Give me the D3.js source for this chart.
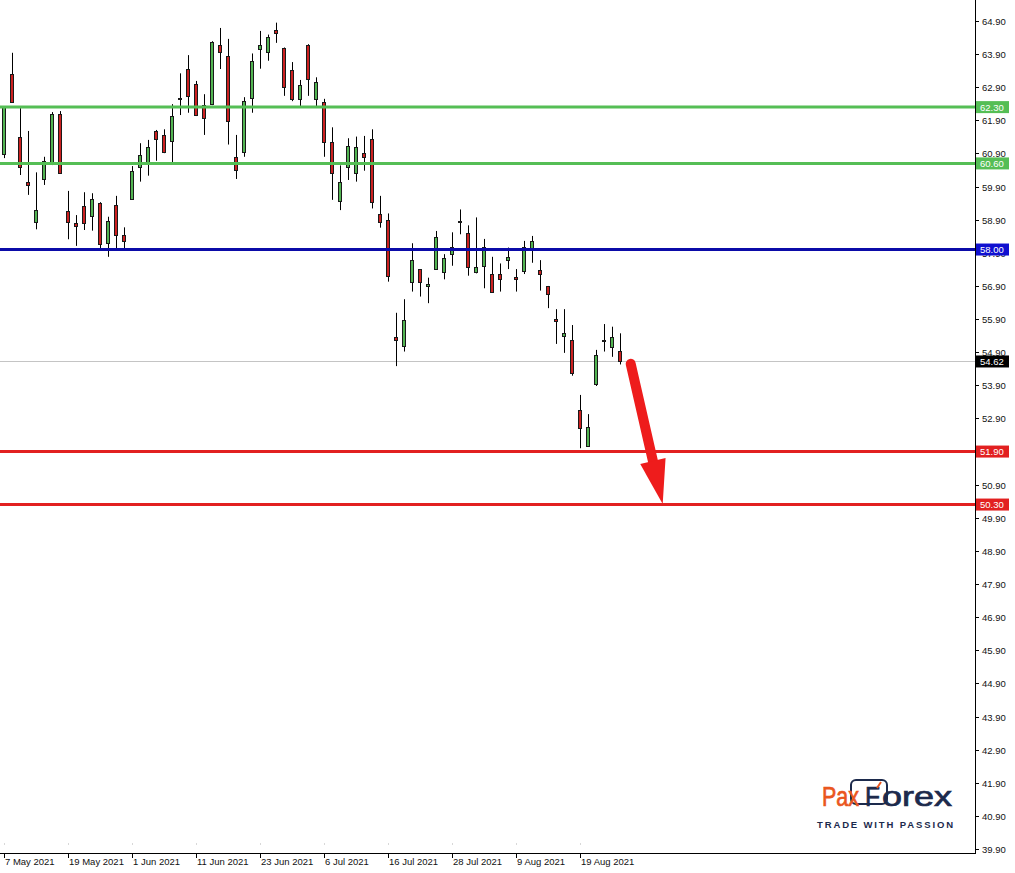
<!DOCTYPE html>
<html>
<head>
<meta charset="utf-8">
<script src="https://cdn.jsdelivr.net/npm/d3@7"></script>
<style>
  html, body { margin: 0; padding: 0; background: #ffffff; }
  svg { display: block; }
</style>
</head>
<body>
<script>
// ---------------- DATA ----------------
const opens  = [60.88,63.30,61.41,60.04,58.84,60.12,60.60,62.08,59.15,58.79,59.31,59.02,59.40,58.21,59.34,58.43,
                59.52,60.48,60.60,61.57,61.45,61.27,62.55,63.44,62.99,62.35,62.38,64.18,63.84,60.78,60.95,62.58,
                64.05,63.95,64.63,64.08,63.41,62.54,64.17,62.54,62.45,61.24,59.46,60.50,60.30,60.91,61.34,59.06,
                58.89,55.35,55.09,57.01,57.40,56.90,57.40,57.31,57.86,58.84,58.49,57.33,57.50,57.25,57.25,57.68,
                57.17,57.36,58.04,57.37,56.90,55.90,55.39,55.26,53.15,52.08,53.93,55.28,55.05,54.94];
const highs  = [62.33,63.94,62.27,61.58,60.33,60.80,62.15,62.18,59.77,59.04,59.73,59.70,59.43,58.99,59.62,58.67,
                60.52,61.21,61.31,61.61,61.63,62.39,63.32,63.87,63.09,62.69,64.29,64.69,64.36,61.46,62.60,63.92,
                64.60,64.49,64.85,64.10,63.66,63.12,64.20,63.20,62.55,61.69,60.54,61.36,61.41,61.43,61.63,59.62,
                59.09,56.09,56.50,58.19,57.41,57.15,58.56,57.86,58.52,59.21,58.73,58.97,58.32,57.78,57.58,58.06,
                57.41,58.26,58.41,57.68,56.90,56.20,56.20,55.72,53.61,53.03,54.97,55.75,55.67,55.47];
const lows   = [60.76,62.43,60.25,59.65,58.61,59.95,60.55,60.28,58.31,58.11,58.59,58.57,58.04,57.78,57.96,57.99,
                59.50,60.05,60.23,60.68,60.91,60.62,62.06,62.13,62.03,61.46,62.36,63.45,61.17,60.13,60.80,62.13,
                63.46,63.70,64.24,62.64,62.48,62.33,62.64,62.33,60.80,59.50,59.19,60.10,60.05,60.38,59.24,58.66,
                57.03,54.48,54.92,56.73,56.58,56.38,57.40,57.10,57.51,58.46,57.21,57.28,56.83,56.70,56.73,57.41,
                56.73,57.26,57.60,56.76,56.23,55.15,54.88,54.19,52.00,52.05,53.88,54.92,54.76,54.53];
const closes = [62.31,62.46,60.50,59.94,59.19,60.66,62.08,60.32,58.84,58.71,58.81,59.52,58.16,58.86,58.43,58.25,
                60.36,60.85,61.09,61.35,60.95,62.02,62.58,62.64,62.07,61.96,64.27,63.97,61.87,60.39,62.48,63.68,
                64.17,64.41,64.53,62.92,62.54,62.96,63.16,63.05,61.26,60.32,60.03,61.14,61.10,60.78,59.43,58.84,
                57.21,55.26,55.87,57.68,57.01,56.96,58.37,57.73,58.09,58.87,57.46,57.46,58.09,56.73,57.10,57.78,
                57.10,58.09,58.25,57.26,56.67,55.84,55.47,54.28,52.62,52.63,54.82,55.25,55.37,54.62];

const dateLabels = ["7 May 2021","19 May 2021","1 Jun 2021","11 Jun 2021","23 Jun 2021",
                    "6 Jul 2021","16 Jul 2021","28 Jul 2021","9 Aug 2021","19 Aug 2021"];
const dateBarIndex = [0,8,16,24,32,40,48,56,64,72];

const priceTicks = d3.range(0, 26).map(k => +(39.90 + k).toFixed(2));
const resistanceLevels = [62.30, 60.60];
const pivotLevels = [58.00];
const targetLevels = [51.90, 50.30];
const lastPrice = 54.62;

// forecast arrow (bar index, price)
const arrowFrom = [78.3, 54.55];
const arrowTo   = [82.3, 50.32];

// ---------------- STYLE ----------------
const W = 1015, H = 873;
const plotRight = 975, plotBottom = 853;
const C = {
  up: "#52b452", down: "#cc2020", border: "#1a1a1a",
  green: "#55be55", blue: "#0b0ba8", red: "#e22020",
  grey: "#c4c4c4", arrow: "#ee1c1c",
  orange: "#ea561e", navy: "#1c2a4c"
};
const FONT = "'Liberation Sans', Arial, sans-serif";

const svg = d3.select("body").append("svg").attr("width", W).attr("height", H)
  .style("font-family", FONT);

// scales
const x = d3.scaleLinear().domain([0, 121]).range([4.3, 4.3 + 8 * 121]);
const y = d3.scaleLinear().domain([39.90, 64.90]).range([849, 21]);
const px = v => Math.round(x(v));

const candles = opens.map((o, i) => ({ i, o, h: highs[i], l: lows[i], c: closes[i] }));

// current price line
svg.append("line")
  .attr("x1", 0).attr("x2", plotRight)
  .attr("y1", Math.round(y(lastPrice)) + 0.5).attr("y2", Math.round(y(lastPrice)) + 0.5)
  .attr("stroke", C.grey).attr("stroke-width", 1);

// candles
const g = svg.append("g");
g.selectAll("line.wick").data(candles).join("line")
  .attr("class", "wick")
  .attr("x1", d => px(d.i) + 0.5).attr("x2", d => px(d.i) + 0.5)
  .attr("y1", d => y(d.h)).attr("y2", d => y(d.l))
  .attr("stroke", "#000").attr("stroke-width", 1);

g.selectAll("rect.body").data(candles).join("rect")
  .attr("class", "body")
  .attr("x", d => px(d.i) - 1.5)
  .attr("width", 3)
  .attr("y", d => Math.round(y(Math.max(d.o, d.c))) + 0.5)
  .attr("height", d => Math.max(1, Math.round(y(Math.min(d.o, d.c))) - Math.round(y(Math.max(d.o, d.c)))))
  .attr("fill", d => d.c >= d.o ? C.up : C.down)
  .attr("stroke", C.border).attr("stroke-width", 1);

// horizontal levels
function level(v, color) {
  svg.append("line")
    .attr("x1", 0).attr("x2", plotRight)
    .attr("y1", y(v)).attr("y2", y(v))
    .attr("stroke", color).attr("stroke-width", 3);
}
resistanceLevels.forEach(v => level(v, C.green));
pivotLevels.forEach(v => level(v, C.blue));
targetLevels.forEach(v => level(v, C.red));

// arrow
(function () {
  const x0 = x(arrowFrom[0]), y0 = y(arrowFrom[1]);
  const x1 = x(arrowTo[0]), y1 = y(arrowTo[1]);
  const dx = x1 - x0, dy = y1 - y0, len = Math.hypot(dx, dy);
  const ux = dx / len, uy = dy / len, nx = -uy, ny = ux;
  const headLen = 44, headHalf = 13;
  const bx = x1 - ux * headLen, by = y1 - uy * headLen;
  svg.append("line")
    .attr("x1", x0).attr("y1", y0)
    .attr("x2", bx + ux * 4).attr("y2", by + uy * 4)
    .attr("stroke", C.arrow).attr("stroke-width", 10).attr("stroke-linecap", "round");
  svg.append("path")
    .attr("d", `M${x1},${y1} L${bx + nx * headHalf},${by + ny * headHalf} L${bx - nx * headHalf},${by - ny * headHalf} Z`)
    .attr("fill", C.arrow);
})();

// right axis
svg.append("line").attr("x1", plotRight + 0.5).attr("x2", plotRight + 0.5)
  .attr("y1", 0).attr("y2", plotBottom + 0.5).attr("stroke", "#000");
const ya = svg.append("g");
priceTicks.forEach(v => {
  const yy = Math.round(y(v)) + 0.5;
  ya.append("line").attr("x1", plotRight).attr("x2", plotRight + 4)
    .attr("y1", yy).attr("y2", yy).attr("stroke", "#000");
  ya.append("text").attr("x", plotRight + 7).attr("y", yy).attr("dy", "0.35em")
    .attr("font-size", 9.5).attr("fill", "#111").text(v.toFixed(2));
});

// price boxes
function box(v, color) {
  const yy = y(v);
  svg.append("rect").attr("x", plotRight + 1).attr("y", yy - 6).attr("width", 33).attr("height", 12)
    .attr("fill", color);
  svg.append("text").attr("x", plotRight + 5).attr("y", yy).attr("dy", "0.36em")
    .attr("font-size", 9.5).attr("fill", "#fff").text(v.toFixed(2));
}
resistanceLevels.forEach(v => box(v, C.green));
pivotLevels.forEach(v => box(v, "#1010d0"));
targetLevels.forEach(v => box(v, C.red));
box(lastPrice, "#000");

// bottom axis
svg.append("line").attr("x1", 0).attr("x2", plotRight + 1)
  .attr("y1", plotBottom + 0.5).attr("y2", plotBottom + 0.5).attr("stroke", "#000");
dateLabels.forEach((t, k) => {
  const xx = px(dateBarIndex[k]) + 0.5;
  svg.append("line").attr("x1", xx).attr("x2", xx).attr("y1", plotBottom).attr("y2", plotBottom + 5)
    .attr("stroke", "#000");
  svg.append("line").attr("x1", xx).attr("x2", xx).attr("y1", plotBottom - 10).attr("y2", plotBottom - 8)
    .attr("stroke", "#d8d8d8");
  svg.append("text").attr("x", xx + 0.5).attr("y", 862).attr("dy", "0.35em")
    .attr("font-size", 9.5).attr("fill", "#111").text(t);
});

// logo
const logo = svg.append("g");
logo.append("rect").attr("x", 851).attr("y", 780).attr("width", 36).attr("height", 24).attr("rx", 5)
  .attr("fill", "#fff").attr("stroke", C.navy).attr("stroke-width", 2);
function logoText(str, x0, len, color) {
  logo.append("text").attr("x", x0).attr("y", 806).attr("font-size", 27)
    .attr("fill", color).attr("stroke", color).attr("stroke-width", 0.7)
    .attr("textLength", len).attr("lengthAdjust", "spacingAndGlyphs").text(str);
}
logoText("Pax", 822, 37, C.orange);
logoText("F", 865, 15, C.navy);
logoText("orex", 882, 70, C.navy);
logo.append("line").attr("x1", 877).attr("y1", 788).attr("x2", 881).attr("y2", 782)
  .attr("stroke", C.orange).attr("stroke-width", 2);
logo.append("text").attr("x", 817).attr("y", 827.5).attr("font-size", 9.5).attr("font-weight", "bold")
  .attr("fill", C.navy).attr("textLength", 136).attr("lengthAdjust", "spacing")
  .text("TRADE WITH PASSION");
</script>
</body>
</html>
